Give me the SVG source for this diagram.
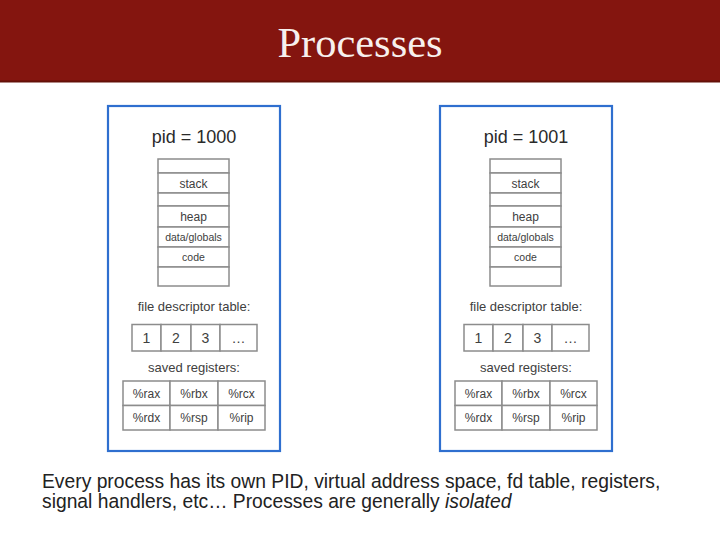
<svg xmlns="http://www.w3.org/2000/svg" width="720" height="540" viewBox="0 0 720 540">
<style>
.lbl{font-family:"Liberation Sans",Arial,sans-serif;fill:#404040;text-anchor:middle}
.cell{fill:#ffffff;stroke:#8c8c8c;stroke-width:1.5}
.proc{fill:#ffffff;stroke:#2f6fcf;stroke-width:2.2}
.pid{font-size:18px;fill:#2a2a2a}
.seg{font-size:12px}
.small{font-size:10.5px}
.hdr{font-size:13px}
.num{font-size:14px}
.reg{font-size:12px}
.body{font-family:"Liberation Sans",Arial,sans-serif;font-size:19.3px;fill:#222222}
</style>
<defs>
<g id="proc">
<rect class="proc" x="108" y="106" width="172" height="345"/>
<g id="mem">
<rect class="cell" x="158" y="159" width="71" height="14"/>
<rect class="cell" x="158" y="173" width="71" height="20"/>
<rect class="cell" x="158" y="193" width="71" height="13"/>
<rect class="cell" x="158" y="206" width="71" height="21"/>
<rect class="cell" x="158" y="227" width="71" height="20"/>
<rect class="cell" x="158" y="247" width="71" height="20"/>
<rect class="cell" x="158" y="267" width="71" height="19"/>
<text class="lbl seg" x="193.5" y="188">stack</text>
<text class="lbl seg" x="193.5" y="221">heap</text>
<text class="lbl small" x="193.5" y="241">data/globals</text>
<text class="lbl small" x="193.5" y="261">code</text>
</g>
<text class="lbl hdr" x="194" y="311">file descriptor table:</text>
<g id="fd">
<rect class="cell" x="132" y="324.5" width="29" height="26.5"/>
<rect class="cell" x="161" y="324.5" width="30" height="26.5"/>
<rect class="cell" x="191" y="324.5" width="29" height="26.5"/>
<rect class="cell" x="220" y="324.5" width="37" height="26.5"/>
<text class="lbl num" x="146.5" y="343">1</text>
<text class="lbl num" x="176" y="343">2</text>
<text class="lbl num" x="205.5" y="343">3</text>
<text class="lbl num" x="238.5" y="343">…</text>
</g>
<text class="lbl hdr" x="194" y="372">saved registers:</text>
<g id="regs">
<rect class="cell" x="123" y="381" width="47" height="24.5"/>
<rect class="cell" x="170" y="381" width="48" height="24.5"/>
<rect class="cell" x="218" y="381" width="47" height="24.5"/>
<rect class="cell" x="123" y="405.5" width="47" height="24.5"/>
<rect class="cell" x="170" y="405.5" width="48" height="24.5"/>
<rect class="cell" x="218" y="405.5" width="47" height="24.5"/>
<text class="lbl reg" x="146.5" y="398">%rax</text>
<text class="lbl reg" x="194" y="398">%rbx</text>
<text class="lbl reg" x="241.5" y="398">%rcx</text>
<text class="lbl reg" x="146.5" y="422">%rdx</text>
<text class="lbl reg" x="194" y="422">%rsp</text>
<text class="lbl reg" x="241.5" y="422">%rip</text>
</g>
</g>
</defs>
<rect x="0" y="0" width="720" height="540" fill="#ffffff"/>
<g id="header">
<rect x="0" y="0" width="720" height="82" fill="#84150f"/>
<rect x="0" y="80.5" width="720" height="2" fill="#641009"/>
<text x="360" y="57" font-family="'Liberation Serif','Times New Roman',serif" font-size="42" fill="#f7f0ee" text-anchor="middle" textLength="165" lengthAdjust="spacingAndGlyphs">Processes</text>
</g>
<g id="process-1000">
<use href="#proc"/>
<text class="lbl pid" x="194" y="143">pid = 1000</text>
</g>
<g id="process-1001">
<use href="#proc" transform="translate(332,0)"/>
<text class="lbl pid" x="526" y="143">pid = 1001</text>
</g>
<g id="connectors"/>
<g id="caption">
<text class="body" x="42" y="488">Every process has its own PID, virtual address space, fd table, registers,</text>
<text class="body" x="42" y="508">signal handlers, etc… Processes are generally <tspan font-style="italic">isolated</tspan></text>
</g>
</svg>
